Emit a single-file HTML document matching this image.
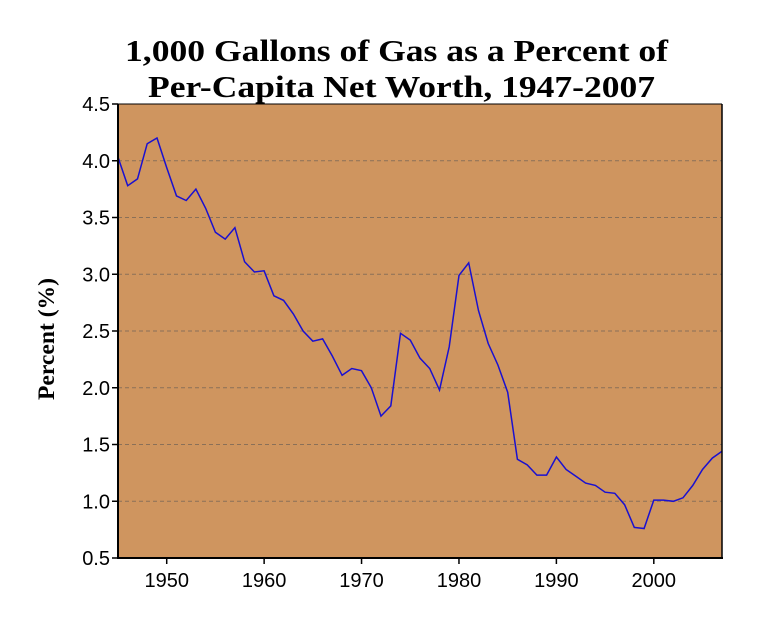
<!DOCTYPE html>
<html><head><meta charset="utf-8"><style>
body{margin:0;background:#fff;width:784px;height:640px;overflow:hidden}
svg{display:block}
</style></head><body>
<svg id="chart" width="784" height="640">
<text x="125" y="61" textLength="543" lengthAdjust="spacingAndGlyphs" font-family="Liberation Serif, serif" font-weight="bold" font-size="31">1,000 Gallons of Gas as a Percent of</text>
<text x="148" y="97" textLength="507" lengthAdjust="spacingAndGlyphs" font-family="Liberation Serif, serif" font-weight="bold" font-size="31">Per-Capita Net Worth, 1947-2007</text>
<text transform="translate(54,339) rotate(-90)" text-anchor="middle" textLength="122" lengthAdjust="spacingAndGlyphs" font-family="Liberation Serif, serif" font-weight="bold" font-size="23">Percent (%)</text>
<rect x="118" y="104" width="604" height="454" fill="#cf955f"/>
<g id="grid"></g>
<path id="line" fill="none" stroke="#1a10d0" stroke-width="1.5"/>
<line x1="118" y1="104" x2="118" y2="558" stroke="#000" stroke-width="2"/>
<line x1="117" y1="558" x2="723" y2="558" stroke="#000" stroke-width="2"/>
<line x1="722" y1="104" x2="722" y2="558" stroke="#000" stroke-width="1.5"/>
<line x1="118" y1="104" x2="722" y2="104" stroke="#000" stroke-width="1"/>
<g id="ticks"></g>
</svg>
<script>
const years = [];
for (let y = 1945; y <= 2007; y++) years.push(y);
const values = [4.03,3.78,3.84,4.15,4.20,3.94,3.69,3.65,3.75,3.58,3.37,3.31,3.41,3.11,3.02,3.03,2.81,2.77,2.65,2.50,2.41,2.43,2.28,2.11,2.17,2.15,2.00,1.75,1.84,2.48,2.42,2.26,2.17,1.98,2.36,2.99,3.10,2.68,2.39,2.20,1.96,1.37,1.32,1.23,1.23,1.39,1.28,1.22,1.16,1.14,1.08,1.07,0.97,0.77,0.76,1.01,1.01,1.00,1.03,1.14,1.28,1.38,1.44];
const yTicks = [0.5,1.0,1.5,2.0,2.5,3.0,3.5,4.0,4.5];
const yTickLabels = ["0.5","1.0","1.5","2.0","2.5","3.0","3.5","4.0","4.5"];
const xTicks = [1950,1960,1970,1980,1990,2000];
const NS = "http://www.w3.org/2000/svg";
const X0 = 118, X1 = 722, Y0 = 558, Y1 = 104;
const xMin = 1945, xMax = 2007, yMin = 0.5, yMax = 4.5;
function xs(v){ return X0 + (v - xMin) / (xMax - xMin) * (X1 - X0); }
function ys(v){ return Y0 - (v - yMin) / (yMax - yMin) * (Y0 - Y1); }
const grid = document.getElementById('grid'), ticks = document.getElementById('ticks');
yTicks.forEach((t, i) => {
  if (t > yMin && t < yMax) {
    const g = document.createElementNS(NS, 'line');
    g.setAttribute('x1', X0); g.setAttribute('x2', X1);
    g.setAttribute('y1', ys(t)); g.setAttribute('y2', ys(t));
    g.setAttribute('stroke', '#8a7058'); g.setAttribute('stroke-dasharray', '4,3'); g.setAttribute('stroke-width', '1');
    
    
    grid.appendChild(g);
  }
  const tk = document.createElementNS(NS, 'line');
  tk.setAttribute('x1', X0 - 6); tk.setAttribute('x2', X0);
  tk.setAttribute('y1', ys(t)); tk.setAttribute('y2', ys(t));
  tk.setAttribute('stroke', '#000'); tk.setAttribute('stroke-width', '1.5');
  
  
  ticks.appendChild(tk);
  const tx = document.createElementNS(NS, 'text');
  tx.setAttribute('x', X0 - 8); tx.setAttribute('y', ys(t) + 7);
  tx.setAttribute('text-anchor', 'end'); tx.setAttribute('font-family', 'Liberation Sans, sans-serif'); tx.setAttribute('font-size', '20');
  tx.textContent = yTickLabels[i];
  
  
  ticks.appendChild(tx);
});
xTicks.forEach(t => {
  const tk = document.createElementNS(NS, 'line');
  tk.setAttribute('x1', xs(t)); tk.setAttribute('x2', xs(t));
  tk.setAttribute('y1', Y0); tk.setAttribute('y2', Y0 + 6);
  tk.setAttribute('stroke', '#000'); tk.setAttribute('stroke-width', '1.5');
  
  
  ticks.appendChild(tk);
  const tx = document.createElementNS(NS, 'text');
  tx.setAttribute('x', xs(t)); tx.setAttribute('y', Y0 + 29);
  tx.setAttribute('text-anchor', 'middle'); tx.setAttribute('font-family', 'Liberation Sans, sans-serif'); tx.setAttribute('font-size', '20');
  tx.textContent = String(t);
  
  
  ticks.appendChild(tx);
});
document.getElementById('line').setAttribute('d', values.map((v, i) => (i ? 'L' : 'M') + xs(years[i]).toFixed(1) + ',' + ys(v).toFixed(1)).join(''));
</script>
</body></html>
